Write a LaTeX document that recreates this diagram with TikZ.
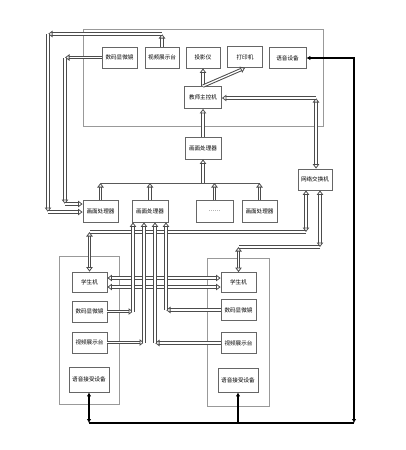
\documentclass[tikz,border=0pt]{standalone}
\usepackage{fontspec}
\newfontfamily\cjk{Noto Sans CJK SC}
\usetikzlibrary{arrows.meta}

\tikzset{
  box/.style={draw=black!60,line width=0.8pt,minimum width=35pt,minimum height=21pt,inner sep=0pt,font=\cjk\fontsize{5.6}{6}\selectfont},
  frame/.style={draw=black!40,line width=0.8pt},
  pipe/.style={draw=black!70,line width=1pt,double=white,double distance=1.3pt},
  tip/.style={-{Triangle[open,length=4.5pt,width=6.5pt,line width=0.8pt]}},
  tips/.style={{Triangle[open,length=4.5pt,width=6.5pt,line width=0.8pt]}-{Triangle[open,length=4.5pt,width=6.5pt,line width=0.8pt]}},
  voice/.style={draw=black,line width=2.2pt},
}

\begin{document}
\begin{tikzpicture}[x=1pt,y=1pt,yscale=-1,xscale=1]
\useasboundingbox (0,0) rectangle (406,450);

%Shape: Rectangle [teacher side]
\draw[frame] (83,29) rectangle (323,126);
%Shape: Rectangle [student sides]
\draw[frame] (59,256) rectangle (119,404);
\draw[frame] (207,258) rectangle (269,406);

% Text Node
\node[box] (sxj) at (119.5,57.5) {数码显微镜};
\node[box,minimum width=34pt] (spt) at (162,57.5) {视频展示台};
\node[box,minimum width=34pt] (tyy) at (203,57.5) {投影仪};
\node[box] (dyj) at (245,57) {打印机};
\node[box,minimum width=37pt] (yysb) at (287.5,58) {语音设备};
\node[box,minimum width=37pt,minimum height=22pt] (jszk) at (203,97.5) {教师主控机};
\node[box,minimum width=36pt,minimum height=22pt] (hmA) at (203,148) {画面处理器};
% Text Node
\node[box,minimum height=22pt] (hm1) at (100.5,211) {画面处理器};
\node[box,minimum width=36pt,minimum height=22pt] (hm2) at (150,211) {画面处理器};
\node[box,minimum width=37pt,minimum height=22pt] (hm3) at (214.5,211) {……};
\node[box,minimum height=22pt] (hm4) at (259.5,211) {画面处理器};
\node[box,minimum width=34pt] (wljh) at (315,179.5) {网络交换机};
% Text Node
\node[box,minimum height=20pt] (xs1) at (89.5,282) {学生机};
\node[box] (sx1) at (89.5,311.5) {数码显微镜};
\node[box] (sp1) at (89.5,342.5) {视频展示台};
\node[box,minimum width=40pt,minimum height=25pt] (yj1) at (89,379.5) {语音接受设备};
\node[box,minimum height=20pt] (xs2) at (238.5,282.5) {学生机};
\node[box] (sx2) at (238.5,310) {数码显微镜};
\node[box] (sp2) at (238.5,343) {视频展示台};
\node[box,minimum width=40pt,minimum height=24pt] (yj2) at (238,380) {语音接受设备};

% corners of the links
\coordinate (ua) at (65,57.5);
\coordinate (ub) at (65,204);
\coordinate (va) at (162,34);
\coordinate (vb) at (48,34);
\coordinate (vc) at (48,212);
\coordinate (na) at (316,98);
\coordinate (ba) at (100.5,183);
\coordinate (bb) at (259.5,183);
\coordinate (wa) at (306,232);
\coordinate (wb) at (89.5,232);
\coordinate (xa) at (320,247);
\coordinate (xb) at (238.5,247);
\coordinate (pa) at (133,311.5);
\coordinate (pb) at (144,342.5);
\coordinate (pc) at (155,343);
\coordinate (pd) at (166,310);
\coordinate (ya) at (354,58);
\coordinate (yb) at (354,423);
\coordinate (yc) at (89,423);

%Lines: teacher side
\draw[pipe,tip] (jszk.north) -- (tyy.south);
\draw[pipe,tip] (jszk.north) -- (dyj.south);
\draw[pipe,tip] (hmA.north) -- (jszk.south);
\draw[pipe,tip] (hmA.south |- ba) -- (hmA.south);
\draw[pipe,tips] (wljh.north -| na) -- (na);
\draw[pipe,tip] (na) -- (jszk.east |- na);

%Lines: microscope and stand to the first processor
\draw[pipe,tip] (sxj.west) -- (ua);
\draw[pipe,tip] (ua) -- (ub);
\draw[pipe,tip] (ub) -- (hm1.west |- ub);
\draw[pipe,tip] (spt.north) -- (va);
\draw[pipe,tip] (va) -- (vb);
\draw[pipe,tip] (vb) -- (vc);
\draw[pipe,tip] (vc) -- (hm1.west |- vc);

%Lines: processors to the bus
\draw[draw=black!65,line width=0.9pt] (ba) -- (bb);
\foreach \n in {hm1,hm2,hm3,hm4}
  \draw[pipe,tip] (\n.north) -- (\n.north |- ba);

%Lines: student machines
\draw[pipe,tips] (xs1.east |- 0,278) -- (xs2.west |- 0,278);
\draw[pipe,tips] (xs1.east |- 0,287) -- (xs2.west |- 0,287);
\draw[pipe] (wa) -- (wb);
\draw[pipe] (xa) -- (xb);
\draw[pipe,tips] (wljh.south -| wa) -- (wa);
\draw[pipe,tips] (wb) -- (xs1.north);
\draw[pipe,tips] (wljh.south -| xa) -- (xa);
\draw[pipe,tips] (xb) -- (xs2.north);

%Lines: student devices to the second processor
\draw[pipe,tip] (sx1.east) -- (pa);
\draw[pipe,tip] (sp1.east) -- (pb);
\draw[pipe,tip] (sp2.west) -- (pc);
\draw[pipe,tip] (sx2.west) -- (pd);
\foreach \c in {pa,pb,pc,pd}
  \draw[pipe,tip] (\c) -- (\c |- hm2.south);

%Lines: voice
\draw[voice,{Latex[length=4pt,width=4.5pt]}-{Latex[length=4pt,width=4.5pt]}] (yysb.east) -- (ya) -- (yb);
\draw[voice] (yb) -- (yc);
\draw[voice,{Latex[length=4pt,width=4.5pt]}-{Latex[length=4pt,width=4.5pt]}] (yj1.south) -- (yc);
\draw[voice,-{Latex[length=4pt,width=4.5pt]}] (yj2.south |- yc) -- (yj2.south);
\end{tikzpicture}
\end{document}
